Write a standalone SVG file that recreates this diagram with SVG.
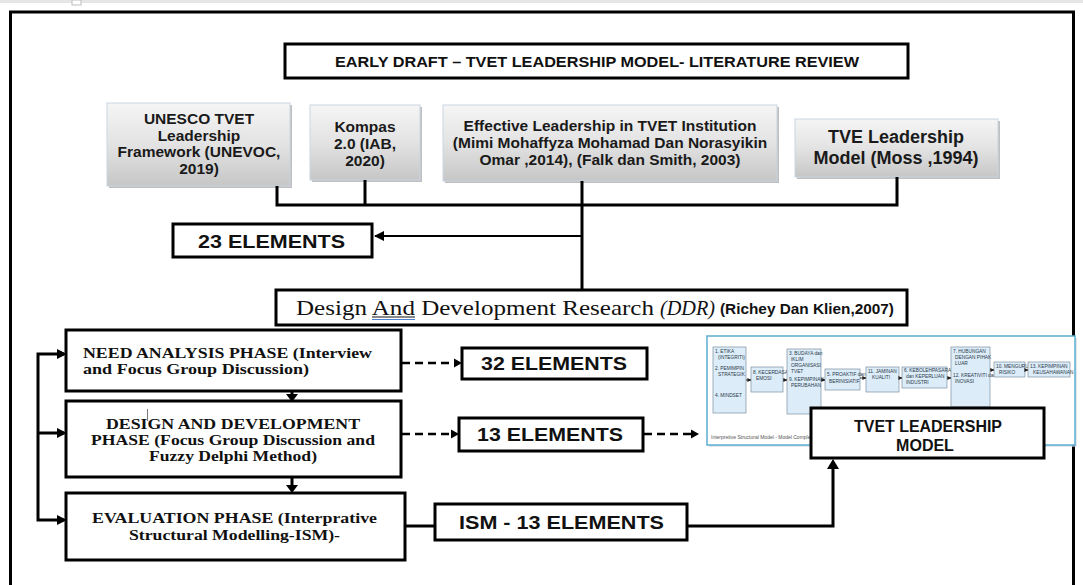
<svg xmlns="http://www.w3.org/2000/svg" width="1083" height="585" viewBox="0 0 1083 585">
  <style>
    .frame { fill: none; stroke: #000; stroke-width: 3; }
    .box { fill: #fff; stroke: #000; stroke-width: 3; }
    .src { fill: url(#srcFill); stroke: #c9d5e2; stroke-width: 1; }
    .shadow { fill: #8c8c8c; opacity: 0.55; }
    .line { fill: none; stroke: #000; stroke-width: 3; }
    .dash { fill: none; stroke: #000; stroke-width: 2.5; stroke-dasharray: 8 5; }
    .srcT { font-family: "Liberation Sans", Arial, sans-serif; font-weight: bold; font-size: 15.5px; fill: #1a1a1a; text-anchor: middle; }
    .srcBig { font-size: 18px; }
    .elT { font-family: "Liberation Sans", Arial, sans-serif; font-weight: bold; font-size: 19px; fill: #111; }
    .phT { font-family: "Liberation Serif", "Times New Roman", serif; font-weight: bold; font-size: 15px; fill: #111; }
    .ismBox { fill: #dcecf8; stroke: #7d8fa0; stroke-width: 0.7; }
    .ismT { font-family: "Liberation Sans", Arial, sans-serif; font-size: 4.8px; fill: #2a3a4a; }
    .ismA { fill: none; stroke: #222; stroke-width: 0.9; }
  </style>
  <defs>
    <linearGradient id="srcFill" x1="0" y1="0" x2="0" y2="1">
      <stop offset="0" stop-color="#f5f5f5"/>
      <stop offset="0.5" stop-color="#e3e3e3"/>
      <stop offset="1" stop-color="#c6c6c6"/>
    </linearGradient>
    <marker id="ah" viewBox="0 0 10 10" refX="9" refY="5" markerWidth="10" markerHeight="10" markerUnits="userSpaceOnUse" orient="auto">
      <path d="M0,0 L10,5 L0,10 Z" fill="#000"/>
    </marker>
    <marker id="ahSmall" viewBox="0 0 10 10" refX="9" refY="5" markerWidth="4" markerHeight="4" markerUnits="userSpaceOnUse" orient="auto">
      <path d="M0,0 L10,5 L0,10 Z" fill="#222"/>
    </marker>
  </defs>

  <rect width="1083" height="585" fill="#fff"/>
  <!-- ruler strip along the top -->
  <rect x="0" y="0" width="1083" height="3" fill="#e6e6e6"/>
  <rect x="72" y="0" width="9" height="5" fill="#fff" stroke="#bdbdbd" stroke-width="1"/>

  <!-- outer frame -->
  <rect class="frame" x="10.5" y="12" width="1063" height="600"/>

  <!-- title -->
  <g id="title">
    <rect class="box" x="285" y="44" width="623" height="34"/>
    <text x="335" y="67" font-family="Liberation Sans, Arial, sans-serif" font-weight="bold" font-size="15" fill="#111" textLength="524" lengthAdjust="spacingAndGlyphs">EARLY DRAFT – TVET LEADERSHIP MODEL- LITERATURE REVIEW</text>
  </g>

  <!-- literature sources -->
  <g id="src-unesco">
    <rect class="shadow" x="109" y="105" width="183" height="83"/>
    <rect class="src" x="107" y="103" width="183" height="83"/>
    <text class="srcT" x="199" y="124">UNESCO TVET</text>
    <text class="srcT" x="199" y="140.5">Leadership</text>
    <text class="srcT" x="199" y="157">Framework (UNEVOC,</text>
    <text class="srcT" x="199" y="173.5">2019)</text>
  </g>
  <g id="src-kompas">
    <rect class="shadow" x="312" y="107" width="110" height="75"/>
    <rect class="src" x="310" y="105" width="110" height="75"/>
    <text class="srcT" x="365" y="132">Kompas</text>
    <text class="srcT" x="365" y="149">2.0 (IAB,</text>
    <text class="srcT" x="365" y="166">2020)</text>
  </g>
  <g id="src-effective">
    <rect class="shadow" x="445" y="107" width="334" height="76"/>
    <rect class="src" x="443" y="105" width="334" height="76"/>
    <text class="srcT" x="610" y="131">Effective Leadership in TVET Institution</text>
    <text class="srcT" x="610" y="148">(Mimi Mohaffyza Mohamad Dan Norasyikin</text>
    <text class="srcT" x="610" y="165">Omar ,2014), (Falk dan Smith, 2003)</text>
  </g>
  <g id="src-tve">
    <rect class="shadow" x="797" y="121" width="203" height="58"/>
    <rect class="src" x="795" y="119" width="203" height="58"/>
    <text class="srcT srcBig" x="896" y="143">TVE Leadership</text>
    <text class="srcT srcBig" x="896" y="164">Model (Moss ,1994)</text>
  </g>

  <g id="elements-23">
    <rect class="box" x="173" y="224" width="199" height="33"/>
    <text class="elT" x="198" y="248" textLength="147" lengthAdjust="spacingAndGlyphs">23 ELEMENTS</text>
  </g>

  <g id="ddr">
    <rect class="box" x="276" y="290" width="631" height="35"/>
    <text x="296" y="315" font-family="Liberation Serif, Times New Roman, serif" font-size="22" fill="#111" textLength="358" lengthAdjust="spacingAndGlyphs">Design And Development Research</text>
    <text x="660" y="315" font-family="Liberation Serif, Times New Roman, serif" font-size="22" font-style="italic" fill="#111" textLength="55" lengthAdjust="spacingAndGlyphs">(DDR)</text>
    <text x="720" y="314" font-family="Liberation Sans, Arial, sans-serif" font-size="14.5" font-weight="bold" fill="#111" textLength="174" lengthAdjust="spacingAndGlyphs">(Richey Dan Klien,2007)</text>
    <line x1="372" y1="317" x2="415" y2="317" stroke="#111" stroke-width="1"/>
    <line x1="372" y1="319.5" x2="415" y2="319.5" stroke="#4a7fd0" stroke-width="1"/>
  </g>

  <!-- research phases -->
  <g id="phase-need">
    <rect class="box" x="66" y="330" width="335" height="61"/>
    <text class="phT" x="83" y="358" textLength="289" lengthAdjust="spacingAndGlyphs">NEED ANALYSIS PHASE (Interview</text>
    <text class="phT" x="83" y="374" textLength="226" lengthAdjust="spacingAndGlyphs">and  Focus Group Discussion)</text>
  </g>
  <g id="phase-design">
    <rect class="box" x="66" y="401" width="335" height="76"/>
    <text class="phT" x="106" y="429" textLength="254" lengthAdjust="spacingAndGlyphs">DESIGN AND DEVELOPMENT</text>
    <text class="phT" x="91" y="445" textLength="284" lengthAdjust="spacingAndGlyphs">PHASE (Focus Group Discussion and</text>
    <text class="phT" x="149" y="461" textLength="168" lengthAdjust="spacingAndGlyphs">Fuzzy Delphi Method)</text>
    <line x1="147.5" y1="409" x2="147.5" y2="421" stroke="#555" stroke-width="0.8"/>
  </g>
  <g id="phase-eval">
    <rect class="box" x="66" y="493" width="339" height="67"/>
    <text class="phT" x="92" y="523" textLength="285" lengthAdjust="spacingAndGlyphs">EVALUATION PHASE (Interprative</text>
    <text class="phT" x="129" y="540" textLength="211" lengthAdjust="spacingAndGlyphs">Structural Modelling-ISM)-</text>
  </g>

  <g id="elements-32">
    <rect class="box" x="462" y="348" width="185" height="31"/>
    <text class="elT" x="481" y="370" textLength="146" lengthAdjust="spacingAndGlyphs">32 ELEMENTS</text>
  </g>
  <g id="elements-13">
    <rect class="box" x="459" y="418" width="184" height="33"/>
    <text class="elT" x="477" y="441" textLength="146" lengthAdjust="spacingAndGlyphs">13 ELEMENTS</text>
  </g>
  <g id="elements-ism">
    <rect class="box" x="435" y="504" width="252" height="36"/>
    <text class="elT" x="459" y="529" textLength="205" lengthAdjust="spacingAndGlyphs">ISM - 13 ELEMENTS</text>
  </g>

  <!-- ISM model figure -->
  <g id="ism-figure">
    <rect x="709" y="338" width="368" height="109" fill="#cfd6dc" opacity="0.6"/>
    <rect x="707" y="336" width="368" height="109" fill="#fff" stroke="#5aaed2" stroke-width="1.5"/>
    <rect class="ismBox" x="713" y="347" width="33" height="66"/>
    <text class="ismT" x="715" y="353">1. ETIKA</text>
    <text class="ismT" x="718" y="359">(INTEGRITI)</text>
    <text class="ismT" x="715" y="370">2. PEMIMPIN</text>
    <text class="ismT" x="718" y="376">STRATEGIK</text>
    <text class="ismT" x="715" y="397">4. MINDSET</text>

    <rect class="ismBox" x="751" y="367" width="32" height="25"/>
    <text class="ismT" x="753" y="374">8. KECERDASAN</text>
    <text class="ismT" x="756" y="380">EMOSI</text>

    <rect class="ismBox" x="787" y="349" width="34" height="65"/>
    <text class="ismT" x="789" y="355">3. BUDAYA dan</text>
    <text class="ismT" x="791" y="361">IKLIM</text>
    <text class="ismT" x="791" y="367">ORGANISASI</text>
    <text class="ismT" x="791" y="373">TVET</text>
    <text class="ismT" x="789" y="381">9. KEPIMPINAN</text>
    <text class="ismT" x="791" y="387">PERUBAHAN</text>

    <rect class="ismBox" x="825" y="369" width="35" height="21"/>
    <text class="ismT" x="827" y="376">5. PROAKTIF dan</text>
    <text class="ismT" x="829" y="383">BERINISIATIF</text>

    <rect class="ismBox" x="866" y="367" width="33" height="25"/>
    <text class="ismT" x="868" y="373">11. JAMINAN</text>
    <text class="ismT" x="872" y="379">KUALITI</text>

    <rect class="ismBox" x="902" y="367" width="45" height="21"/>
    <text class="ismT" x="904" y="372">6. KEBOLEHPASARAN</text>
    <text class="ismT" x="906" y="378">dan KEPERLUAN</text>
    <text class="ismT" x="906" y="384">INDUSTRI</text>

    <rect class="ismBox" x="951" y="347" width="39" height="60"/>
    <text class="ismT" x="953" y="353">7. HUBUNGAN</text>
    <text class="ismT" x="955" y="359">DENGAN PIHAK</text>
    <text class="ismT" x="955" y="365">LUAR</text>
    <text class="ismT" x="953" y="377">12. KREATIVITI dan</text>
    <text class="ismT" x="955" y="383">INOVASI</text>

    <rect class="ismBox" x="994" y="362" width="31" height="15"/>
    <text class="ismT" x="996" y="368">10. MENGURUS</text>
    <text class="ismT" x="999" y="374">RISIKO</text>

    <rect class="ismBox" x="1028" y="362" width="42" height="15"/>
    <text class="ismT" x="1030" y="368">13. KEPIMPINAN</text>
    <text class="ismT" x="1033" y="374">KEUSAHAWANAN</text>

    <g class="ismA">
      <line x1="746" y1="380" x2="751" y2="380" marker-end="url(#ahSmall)"/>
      <line x1="783" y1="380" x2="787" y2="380" marker-end="url(#ahSmall)"/>
      <line x1="821" y1="380" x2="825" y2="380" marker-end="url(#ahSmall)"/>
      <line x1="860" y1="378" x2="866" y2="378" marker-end="url(#ahSmall)"/>
      <line x1="899" y1="378" x2="902" y2="378" marker-end="url(#ahSmall)"/>
      <line x1="947" y1="378" x2="951" y2="378" marker-end="url(#ahSmall)"/>
      <line x1="990" y1="370" x2="994" y2="370" marker-end="url(#ahSmall)"/>
      <line x1="1025" y1="370" x2="1028" y2="370" marker-end="url(#ahSmall)"/>
    </g>
    <text x="711" y="439" font-family="Liberation Sans, Arial, sans-serif" font-size="5" fill="#555">Interpretive Structural Model - Model Completed</text>
  </g>

  <g id="tvet-model">
    <rect class="box" x="811" y="408" width="233" height="50"/>
    <text x="928" y="432" font-family="Liberation Sans, Arial, sans-serif" font-weight="bold" font-size="16" fill="#111" text-anchor="middle" textLength="148" lengthAdjust="spacingAndGlyphs">TVET LEADERSHIP</text>
    <text x="925" y="451" font-family="Liberation Sans, Arial, sans-serif" font-weight="bold" font-size="16" fill="#111" text-anchor="middle">MODEL</text>
  </g>

  <!-- connectors -->
  <g id="connectors">
    <!-- sources merge into one trunk -->
    <path class="line" d="M277,186 V205 H897 V177"/>
    <path class="line" d="M365,180 V205"/>
    <path class="line" d="M582,181 V290"/>
    <line x1="582" y1="236" x2="375" y2="236" stroke="#000" stroke-width="1.8" marker-end="url(#ah)"/>

    <!-- feedback bracket into the phases -->
    <path class="line" d="M64,354 H38 V520 H64"/>
    <line class="line" x1="38" y1="433" x2="64" y2="433"/>
    <path d="M57,349 L67,354 L57,359 Z M57,428 L67,433 L57,438 Z M57,515 L67,520 L57,525 Z" fill="#000"/>

    <!-- phase to phase -->
    <line class="line" x1="292" y1="391" x2="292" y2="396"/>
    <path d="M286,394 L292,402 L298,394 Z" fill="#000"/>
    <line class="line" x1="292" y1="477" x2="292" y2="487"/>
    <path d="M286,485 L292,493 L298,485 Z" fill="#000"/>

    <!-- dashed outputs -->
    <line class="dash" x1="402" y1="363" x2="455" y2="363"/>
    <path d="M454,358.5 L462,363 L454,367.5 Z" fill="#000"/>
    <line class="dash" x1="402" y1="434" x2="452" y2="434"/>
    <path d="M451,429.5 L459,434 L451,438.5 Z" fill="#000"/>
    <line class="dash" x1="644" y1="434" x2="692" y2="434"/>
    <path d="M691,429.5 L699,434 L691,438.5 Z" fill="#000"/>

    <!-- evaluation to the model -->
    <line class="line" x1="405" y1="526" x2="435" y2="526"/>
    <path class="line" d="M687,526 H833 V468"/>
    <path d="M827,469 L833,459 L839,469 Z" fill="#000"/>
  </g>
</svg>
